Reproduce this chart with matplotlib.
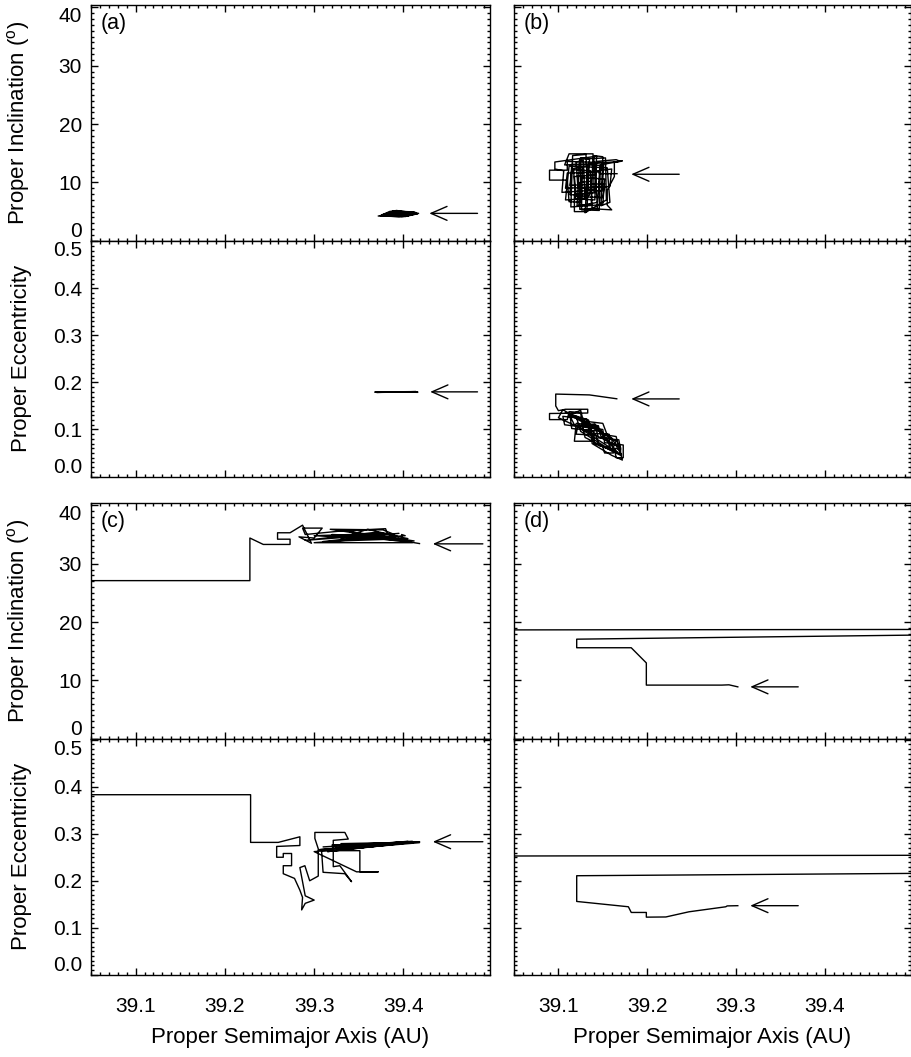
import matplotlib
matplotlib.use("Agg")
import matplotlib.pyplot as plt
from matplotlib.ticker import MultipleLocator

plt.rcParams['font.family'] = ['Liberation Sans', 'DejaVu Sans']
plt.rcParams['mathtext.fontset'] = 'custom'
plt.rcParams['mathtext.rm'] = 'Liberation Sans'

# ---------------- data ----------------
x_ticks = [39.1, 39.2, 39.3, 39.4]
x_tick_labels = ["39.1", "39.2", "39.3", "39.4"]
inc_ticks = [0, 10, 20, 30, 40]
inc_tick_labels = ["0", "10", "20", "30", "40"]
ecc_ticks = [0.0, 0.1, 0.2, 0.3, 0.4, 0.5]
ecc_tick_labels = ["0.0", "0.1", "0.2", "0.3", "0.4", "0.5"]
panel_names = ["(a)", "(b)", "(c)", "(d)"]

# panel (a)
a_inc_a = [39.372, 39.395, 39.416, 39.390, 39.376, 39.400, 39.414, 39.385, 39.374, 39.398,
           39.417, 39.392, 39.380, 39.405, 39.412, 39.388, 39.378, 39.402, 39.415, 39.395,
           39.383, 39.410, 39.386, 39.407, 39.390]
i_inc_a = [4.25, 4.15, 4.65, 5.15, 4.45, 4.20, 4.85, 5.05, 4.30, 4.10,
           4.70, 5.20, 4.55, 4.25, 4.95, 5.10, 4.35, 4.15, 4.60, 5.00,
           4.70, 4.50, 4.90, 4.80, 4.40]
a_ecc_a = [39.368, 39.416, 39.370, 39.414, 39.372, 39.416, 39.369, 39.412]
e_ecc_a = [0.1795, 0.1800, 0.1788, 0.1806, 0.1798, 0.1790, 0.1803, 0.1797]

# panel (b)
a_inc_b = [39.166, 39.146, 39.150, 39.110, 39.110, 39.090, 39.090, 39.110, 39.112, 39.125,
           39.125, 39.135, 39.132, 39.118, 39.118, 39.140, 39.140, 39.150, 39.148, 39.158,
           39.155, 39.112, 39.108, 39.130, 39.128, 39.120, 39.122, 39.145, 39.147, 39.172,
           39.163, 39.163, 39.155, 39.155, 39.160, 39.138, 39.136, 39.115, 39.113, 39.152,
           39.150, 39.120, 39.118, 39.142, 39.143, 39.096, 39.096, 39.106, 39.104, 39.133,
           39.131, 39.116, 39.114, 39.150, 39.152, 39.126, 39.124, 39.144, 39.141, 39.107,
           39.112, 39.139, 39.137, 39.121, 39.124, 39.153, 39.154, 39.130, 39.133, 39.160,
           39.158, 39.108, 39.110, 39.147, 39.146, 39.126, 39.127, 39.117, 39.119, 39.141,
           39.143, 39.165, 39.170, 39.134, 39.131, 39.149, 39.151, 39.115, 39.113, 39.135,
           39.137, 39.124, 39.123, 39.144, 39.146]
i_inc_b = [11.5, 11.5, 13.4, 13.6, 12.1, 12.1, 10.4, 10.4, 6.7, 6.6,
           14.2, 14.0, 5.0, 5.0, 8.0, 8.2, 14.6, 14.4, 6.0, 6.6,
           12.5, 12.8, 7.0, 7.2, 13.8, 13.5, 9.0, 9.2, 13.0, 13.7,
           13.5, 11.0, 8.7, 6.1, 5.3, 5.5, 12.0, 12.2, 9.5, 9.8,
           7.4, 7.6, 11.0, 11.3, 14.5, 13.5, 12.3, 12.0, 8.3, 8.6,
           14.8, 14.6, 5.8, 6.2, 10.6, 10.8, 5.4, 5.6, 13.2, 13.0,
           14.9, 14.9, 6.3, 6.0, 14.0, 14.2, 7.0, 4.8, 11.8, 12.3,
           9.3, 9.0, 11.6, 11.8, 5.2, 5.3, 12.6, 12.4, 7.2, 7.0,
           13.6, 13.9, 13.6, 13.2, 8.8, 8.5, 12.9, 13.1, 7.9, 7.8,
           10.2, 10.0, 5.9, 6.6, 10.0]
a_ecc_b = [39.1657, 39.135, 39.097, 39.097, 39.100, 39.108, 39.133, 39.133, 39.090, 39.090,
           39.110, 39.112, 39.125, 39.128, 39.140, 39.140, 39.118, 39.120, 39.145, 39.148,
           39.160, 39.162, 39.152, 39.150, 39.158, 39.157, 39.135, 39.132, 39.105, 39.107,
           39.150, 39.152, 39.173, 39.173, 39.165, 39.163, 39.170, 39.168, 39.145, 39.143,
           39.115, 39.113, 39.125, 39.128, 39.150, 39.155, 39.165, 39.167, 39.172, 39.160,
           39.138, 39.136, 39.122, 39.120, 39.142, 39.146, 39.158, 39.156,
           39.100, 39.105, 39.160, 39.171, 39.118, 39.112, 39.165, 39.160, 39.125, 39.120,
           39.148, 39.152, 39.170, 39.170, 39.130, 39.127, 39.141, 39.158, 39.166, 39.140,
           39.134, 39.108]
e_ecc_b = [0.1653, 0.1735, 0.1753, 0.150, 0.140, 0.143, 0.143, 0.135, 0.134, 0.121,
           0.121, 0.138, 0.136, 0.100, 0.095, 0.075, 0.075, 0.113, 0.108, 0.085,
           0.080, 0.050, 0.050, 0.063, 0.063, 0.090, 0.092, 0.122, 0.128, 0.110,
           0.100, 0.072, 0.067, 0.040, 0.040, 0.060, 0.058, 0.078, 0.082, 0.097,
           0.102, 0.131, 0.141, 0.118, 0.113, 0.088, 0.085, 0.070, 0.035, 0.045,
           0.070, 0.104, 0.110, 0.090, 0.088, 0.066, 0.060, 0.075,
           0.125, 0.142, 0.082, 0.046, 0.110, 0.132, 0.075, 0.055, 0.096, 0.128,
           0.099, 0.078, 0.062, 0.045, 0.083, 0.108, 0.112, 0.070, 0.052, 0.070,
           0.120, 0.136]

# panel (c)
a_inc_c = [39.00, 39.228, 39.228, 39.243, 39.273, 39.273, 39.259, 39.259, 39.273, 39.287,
           39.297, 39.283, 39.300, 39.309, 39.287, 39.290, 39.330, 39.380, 39.382, 39.300,
           39.400, 39.318, 39.377, 39.390, 39.390, 39.398, 39.398, 39.402, 39.300, 39.410,
           39.350, 39.290, 39.370, 39.405, 39.310, 39.395, 39.330, 39.360, 39.395, 39.320,
           39.412, 39.340, 39.385, 39.418]
i_inc_c = [27.1, 27.1, 34.4, 33.3, 33.3, 34.2, 34.2, 35.3, 35.3, 36.6,
           33.5, 34.6, 34.4, 36.1, 36.1, 35.0, 35.6, 36.0, 35.2, 34.8,
           34.0, 35.9, 35.8, 35.0, 34.0, 34.0, 35.0, 34.8, 33.6, 33.6,
           34.7, 34.0, 35.4, 34.3, 33.8, 35.2, 34.4, 35.9, 34.6, 35.0,
           33.9, 35.5, 34.3, 33.45]
a_ecc_c = [39.00, 39.2288, 39.2288, 39.2598, 39.284, 39.284, 39.258, 39.258, 39.2654, 39.2654,
           39.2747, 39.2747, 39.2654, 39.2654, 39.278, 39.284, 39.287, 39.286, 39.290, 39.300,
           39.290, 39.284, 39.2896, 39.295, 39.3046, 39.3046, 39.3008, 39.3008, 39.3344, 39.3382,
           39.3214, 39.3214, 39.3288, 39.3419, 39.3344, 39.310, 39.3083, 39.3512, 39.3512, 39.3717,
           39.3475, 39.300, 39.418, 39.310, 39.410, 39.305, 39.400, 39.320, 39.418, 39.315,
           39.390, 39.330, 39.412, 39.340, 39.405, 39.325, 39.395, 39.350, 39.418]
e_ecc_c = [0.383, 0.383, 0.2816, 0.2816, 0.2935, 0.275, 0.273, 0.250, 0.250, 0.258,
           0.258, 0.232, 0.232, 0.215, 0.205, 0.180, 0.1645, 0.138, 0.152, 0.1589,
           0.168, 0.228, 0.232, 0.200, 0.210, 0.268, 0.290, 0.3028, 0.3028, 0.2887,
           0.286, 0.230, 0.232, 0.198, 0.215, 0.218, 0.264, 0.264, 0.219, 0.219,
           0.219, 0.262, 0.281, 0.272, 0.284, 0.266, 0.281, 0.276, 0.283, 0.262,
           0.278, 0.279, 0.282, 0.268, 0.284, 0.270, 0.280, 0.274, 0.2825]

# panel (d)
a_inc_d = [39.00, 39.60, 39.60, 39.1206, 39.1206, 39.182, 39.199, 39.199, 39.284, 39.292, 39.302]
i_inc_d = [18.65, 18.75, 17.95, 17.07, 15.6, 15.6, 13.0, 9.2, 9.2, 9.25, 8.9]
a_ecc_d = [39.00, 39.60, 39.60, 39.1206, 39.1206, 39.1788, 39.182, 39.199, 39.199, 39.221,
           39.247, 39.2885, 39.290, 39.302]
e_ecc_d = [0.2525, 0.2545, 0.2170, 0.2107, 0.156, 0.1447, 0.1326, 0.1326, 0.1226, 0.1230,
           0.134, 0.1447, 0.1465, 0.147]

# arrows: (tail x, head x, y)
arrows_inc = [(39.483, 39.429, 4.7), (39.236, 39.182, 11.4), (39.489, 39.433, 33.4), (39.370, 39.316, 8.9)]
arrows_ecc = [(39.483, 39.430, 0.180), (39.236, 39.182, 0.165), (39.489, 39.433, 0.283), (39.370, 39.316, 0.147)]

inc_data = [(a_inc_a, i_inc_a), (a_inc_b, i_inc_b), (a_inc_c, i_inc_c), (a_inc_d, i_inc_d)]
ecc_data = [(a_ecc_a, e_ecc_a), (a_ecc_b, e_ecc_b), (a_ecc_c, e_ecc_c), (a_ecc_d, e_ecc_d)]

# ---------------- layout ----------------
W, H = 912, 1057
fig = plt.figure(figsize=(W / 100, H / 100), dpi=100)

col_left = [91, 514]
col_width = [399, 397]
row_top_px = [5, 240.7, 503, 739]
row_h_px = 235.8

XLIM = (39.05, 39.497)
INC_LIM = (0, 40.4)
ECC_LIM = (0.0, 0.5015)

FS_TICK = 15
FS_LABEL = 16


def make_ax(col, row):
    l = col_left[col] / W
    w = col_width[col] / W
    b = 1 - (row_top_px[row] + row_h_px) / H
    h = row_h_px / H
    ax = fig.add_axes([l, b, w, h])
    for s in ax.spines.values():
        s.set_linewidth(1.0)
    ax.set_xlim(*XLIM)
    ax.xaxis.set_major_locator(plt.FixedLocator(x_ticks))
    ax.xaxis.set_minor_locator(MultipleLocator(0.01))
    ax.tick_params(which='both', direction='in', top=True, right=True,
                   width=1.0, labelsize=FS_TICK, colors='black')
    ax.tick_params(which='major', length=4.8)
    ax.tick_params(which='minor', length=2.3)
    ax.tick_params(axis='x', pad=16)
    ax.tick_params(axis='y', pad=6.5)
    return ax


for p in range(4):
    col = p % 2
    pair = p // 2
    ax_i = make_ax(col, 2 * pair)
    ax_e = make_ax(col, 2 * pair + 1)

    # inclination panel
    ax_i.set_ylim(*INC_LIM)
    ax_i.set_yticks(inc_ticks)
    ax_i.yaxis.set_minor_locator(MultipleLocator(1))
    ax_i.plot(inc_data[p][0], inc_data[p][1], color='black', lw=1.0)
    t, hd, y = arrows_inc[p]
    ax_i.annotate("", xy=(hd, y), xytext=(t, y),
                  arrowprops=dict(arrowstyle='->,head_length=1.15,head_width=0.5',
                                  lw=1.0, color='black', shrinkA=0, shrinkB=0,
                                  mutation_scale=10))
    ax_i.text(0.025, 0.965, panel_names[p], transform=ax_i.transAxes,
              ha='left', va='top', fontsize=15.5)
    ax_i.tick_params(axis='x', labelbottom=False)

    # eccentricity panel
    ax_e.set_ylim(*ECC_LIM)
    ax_e.set_yticks(ecc_ticks)
    ax_e.yaxis.set_minor_locator(MultipleLocator(0.01))
    ax_e.plot(ecc_data[p][0], ecc_data[p][1], color='black', lw=1.0)
    t, hd, y = arrows_ecc[p]
    ax_e.annotate("", xy=(hd, y), xytext=(t, y),
                  arrowprops=dict(arrowstyle='->,head_length=1.15,head_width=0.5',
                                  lw=1.0, color='black', shrinkA=0, shrinkB=0,
                                  mutation_scale=10))

    if col == 0:
        ax_i.set_yticklabels(inc_tick_labels)
        ax_e.set_yticklabels(ecc_tick_labels)
        li = ax_i.get_yticklabels()
        li[0].set_va('bottom')
        li[-1].set_va('top')
        le = ax_e.get_yticklabels()
        le[0].set_va('bottom')
        le[-1].set_va('top')
        ax_i.set_ylabel(r"Proper Inclination ($^{\mathrm{o}}$)", fontsize=FS_LABEL)
        ax_e.set_ylabel("Proper Eccentricity", fontsize=FS_LABEL)
        ax_i.yaxis.set_label_coords(-0.148, 0.5)
        ax_e.yaxis.set_label_coords(-0.148, 0.5)
    else:
        ax_i.tick_params(axis='y', labelleft=False)
        ax_e.tick_params(axis='y', labelleft=False)

    if pair == 1:
        ax_e.set_xticklabels(x_tick_labels)
        ax_e.set_xlabel("Proper Semimajor Axis (AU)", fontsize=FS_LABEL)
        ax_e.xaxis.set_label_coords(0.5, -0.22)
    else:
        ax_e.tick_params(axis='x', labelbottom=False)

fig.savefig("out.png", dpi=100)
